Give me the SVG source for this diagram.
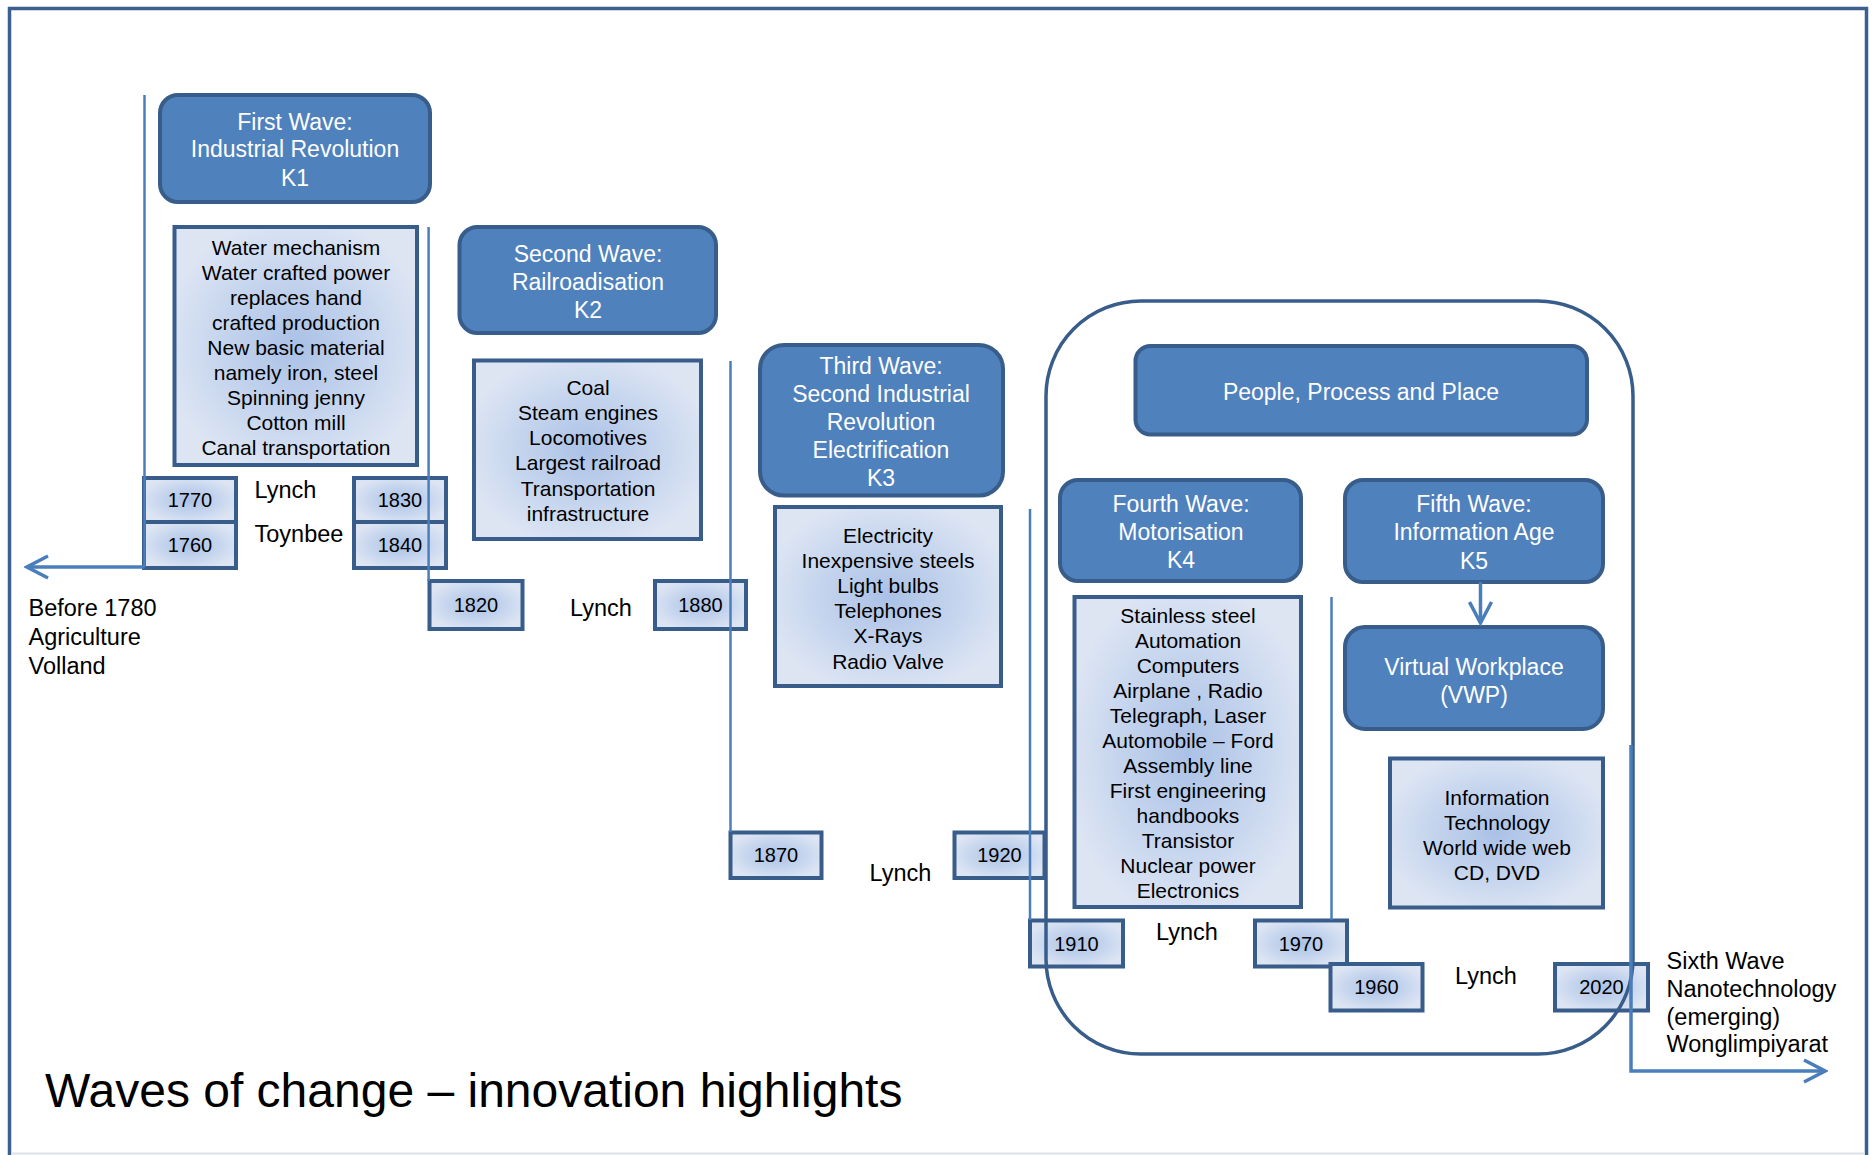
<svg xmlns="http://www.w3.org/2000/svg" width="1872" height="1155" viewBox="0 0 1872 1155">
<defs>
<radialGradient id="bodyGrad" cx="50%" cy="50%" r="55%">
<stop offset="0%" stop-color="#AAC1E6"/>
<stop offset="65%" stop-color="#CAD8EF"/>
<stop offset="100%" stop-color="#DDE5F3"/>
</radialGradient>
<marker id="chev" viewBox="0 0 26 26" refX="23" refY="13" markerWidth="26" markerHeight="26" markerUnits="userSpaceOnUse" orient="auto-start-reverse">
<path d="M2,2 L23,13 L2,24" fill="none" stroke="#4A7EBB" stroke-width="3.5"/>
</marker>
<style>
.hdr rect{fill:#4F81BD;stroke:#385D8A;stroke-width:4}
.hdr text{fill:#FFFFFF;font-family:"Liberation Sans",Arial,sans-serif;font-size:23px;text-anchor:middle}
.body rect{fill:url(#bodyGrad);stroke:#385D8A;stroke-width:4}
.body text{fill:#000000;font-family:"Liberation Sans",Arial,sans-serif;font-size:21px;text-anchor:middle}
.date rect{fill:url(#bodyGrad);stroke:#385D8A;stroke-width:4}
.date text{fill:#000000;font-family:"Liberation Sans",Arial,sans-serif;font-size:20px;text-anchor:middle}
.lbl{fill:#000000;font-family:"Liberation Sans",Arial,sans-serif;font-size:23.5px}
.conn{stroke:#4A7EBB;stroke-width:2.5;fill:none}
.arr{stroke:#4A7EBB;stroke-width:3.5;fill:none}
</style>
</defs>
<rect width="1872" height="1155" fill="#FFFFFF"/>
<rect x="9.5" y="8.5" width="1857" height="1160" fill="none" stroke="#3B6090" stroke-width="3.5"/>
<line x1="11" y1="1153.5" x2="1865" y2="1153.5" stroke="#DCE2EA" stroke-width="2"/>

<g id="first-wave" class="hdr">
<rect x="160" y="95" width="270" height="107" rx="18"/>
<text x="295" y="129.5">First Wave:</text>
<text x="295" y="157">Industrial  Revolution</text>
<text x="295" y="185.5">K1</text>
</g>
<g id="first-wave-items" class="body">
<rect x="174.5" y="227" width="242.5" height="238"/>
<text x="296" y="254.5">Water mechanism</text>
<text x="296" y="279.5">Water crafted power</text>
<text x="296" y="304.5">replaces hand</text>
<text x="296" y="329.5">crafted production</text>
<text x="296" y="354.5">New basic material</text>
<text x="296" y="379.5">namely iron, steel</text>
<text x="296" y="404.5">Spinning jenny</text>
<text x="296" y="429.5">Cotton mill</text>
<text x="296" y="455">Canal  transportation</text>
</g>

<g id="second-wave" class="hdr">
<rect x="459.5" y="227" width="256.5" height="106" rx="18"/>
<text x="588" y="262">Second Wave:</text>
<text x="588" y="290">Railroadisation</text>
<text x="588" y="318">K2</text>
</g>
<g id="second-wave-items" class="body">
<rect x="474" y="360.5" width="227" height="178.5"/>
<text x="588" y="395">Coal</text>
<text x="588" y="420">Steam engines</text>
<text x="588" y="445">Locomotives</text>
<text x="588" y="470">Largest railroad</text>
<text x="588" y="495.5">Transportation</text>
<text x="588" y="520.5">infrastructure</text>
</g>

<g id="third-wave" class="hdr">
<rect x="760" y="345" width="243" height="150.5" rx="24"/>
<text x="881" y="373.5">Third Wave:</text>
<text x="881" y="401.5">Second Industrial</text>
<text x="881" y="429.5">Revolution</text>
<text x="881" y="457.5">Electrification</text>
<text x="881" y="485.5">K3</text>
</g>
<g id="third-wave-items" class="body">
<rect x="775" y="507" width="226" height="179"/>
<text x="888" y="542.5">Electricity</text>
<text x="888" y="567.5">Inexpensive steels</text>
<text x="888" y="592.5">Light bulbs</text>
<text x="888" y="617.5">Telephones</text>
<text x="888" y="643">X-Rays</text>
<text x="888" y="668.5">Radio Valve</text>
</g>

<g id="people-process-place" class="hdr">
<rect x="1135.5" y="346" width="451.5" height="88.5" rx="15"/>
<text x="1361" y="400">People,  Process and Place</text>
</g>

<g id="fourth-wave" class="hdr">
<rect x="1060" y="480" width="241" height="101" rx="18"/>
<text x="1181" y="512">Fourth Wave:</text>
<text x="1181" y="540">Motorisation</text>
<text x="1181" y="568">K4</text>
</g>
<g id="fourth-wave-items" class="body">
<rect x="1074.5" y="597" width="226.5" height="310"/>
<text x="1188" y="622.5">Stainless steel</text>
<text x="1188" y="647.5">Automation</text>
<text x="1188" y="672.5">Computers</text>
<text x="1188" y="697.5">Airplane , Radio</text>
<text x="1188" y="722.5">Telegraph,  Laser</text>
<text x="1188" y="747.5">Automobile – Ford</text>
<text x="1188" y="772.5">Assembly line</text>
<text x="1188" y="797.5">First engineering</text>
<text x="1188" y="822.5">handbooks</text>
<text x="1188" y="847.5">Transistor</text>
<text x="1188" y="872.5">Nuclear power</text>
<text x="1188" y="897.5">Electronics</text>
</g>

<g id="fifth-wave" class="hdr">
<rect x="1345" y="480" width="258" height="102" rx="18"/>
<text x="1474" y="511.5">Fifth Wave:</text>
<text x="1474" y="540">Information Age</text>
<text x="1474" y="568.5">K5</text>
</g>
<g id="virtual-workplace" class="hdr">
<rect x="1345" y="627" width="258" height="102" rx="20"/>
<text x="1474" y="674.5">Virtual  Workplace</text>
<text x="1474" y="702.5">(VWP)</text>
</g>
<g id="fifth-wave-items" class="body">
<rect x="1390" y="758.5" width="213" height="149"/>
<text x="1497" y="804.5">Information</text>
<text x="1497" y="829.5">Technology</text>
<text x="1497" y="854.5">World wide web</text>
<text x="1497" y="880">CD, DVD</text>
</g>

<g id="d1770" class="date"><rect x="144" y="478" width="92" height="44"/><text x="190" y="507">1770</text></g>
<g id="d1760" class="date"><rect x="144" y="522" width="92" height="46"/><text x="190" y="552">1760</text></g>
<g id="d1830" class="date"><rect x="354" y="478" width="92" height="44"/><text x="400" y="507">1830</text></g>
<g id="d1840" class="date"><rect x="354" y="522" width="92" height="46"/><text x="400" y="552">1840</text></g>
<g id="d1820" class="date"><rect x="429.5" y="581" width="93" height="48"/><text x="476" y="612">1820</text></g>
<g id="d1880" class="date"><rect x="655" y="581" width="91" height="48"/><text x="700.5" y="612">1880</text></g>
<g id="d1870" class="date"><rect x="730.5" y="832.5" width="91" height="45.5"/><text x="776" y="862">1870</text></g>
<g id="d1920" class="date"><rect x="954.5" y="832.5" width="90" height="45.5"/><text x="999.5" y="862">1920</text></g>
<g id="d1910" class="date"><rect x="1030" y="920.5" width="93" height="46"/><text x="1076.5" y="950.5">1910</text></g>
<g id="d1970" class="date"><rect x="1255" y="920.5" width="92" height="46"/><text x="1301" y="950.5">1970</text></g>
<g id="d1960" class="date"><rect x="1330.5" y="964" width="92" height="46.5"/><text x="1376.5" y="994">1960</text></g>
<g id="d2020" class="date"><rect x="1555" y="964" width="93" height="46.5"/><text x="1601.5" y="994">2020</text></g>

<g id="container">
<rect x="1046" y="301" width="587" height="753" rx="95" ry="95" fill="none" stroke="#385D8A" stroke-width="3.5"/>
</g>

<g id="connectors">
<line class="conn" x1="144.5" y1="95" x2="144.5" y2="567"/>
<path class="arr" d="M144.5,567 L27,567" marker-end="url(#chev)"/>
<line class="conn" x1="428.6" y1="227" x2="428.6" y2="581"/>
<line class="conn" x1="730.5" y1="361" x2="730.5" y2="832"/>
<line class="conn" x1="1030" y1="509" x2="1030" y2="920"/>
<line class="conn" x1="1331.5" y1="597" x2="1331.5" y2="920"/>
<path class="arr" d="M1631,745 L1631,1071 L1825,1071" marker-end="url(#chev)"/>
<path class="arr" d="M1480.5,582 L1480.5,623" marker-end="url(#chev)"/>
</g>

<g id="labels">
<text class="lbl" x="254.5" y="497.5">Lynch</text>
<text class="lbl" x="254.5" y="541.5">Toynbee</text>
<text class="lbl" x="570" y="615.5">Lynch</text>
<text class="lbl" x="869.5" y="881">Lynch</text>
<text class="lbl" x="1156" y="940">Lynch</text>
<text class="lbl" x="1455" y="984">Lynch</text>
<text class="lbl" x="28.5" y="616">Before 1780</text>
<text class="lbl" x="28.5" y="644.5">Agriculture</text>
<text class="lbl" x="28.5" y="674">Volland</text>
<text class="lbl" x="1666.5" y="968.5">Sixth Wave</text>
<text class="lbl" x="1666.5" y="996.5">Nanotechnology</text>
<text class="lbl" x="1666.5" y="1024.5">(emerging)</text>
<text class="lbl" x="1666.5" y="1052">Wonglimpiyarat</text>
</g>
<text id="title" x="45" y="1107" font-family="&quot;Liberation Sans&quot;,Arial,sans-serif" font-size="48" fill="#000000">Waves of change – innovation highlights</text>
</svg>
